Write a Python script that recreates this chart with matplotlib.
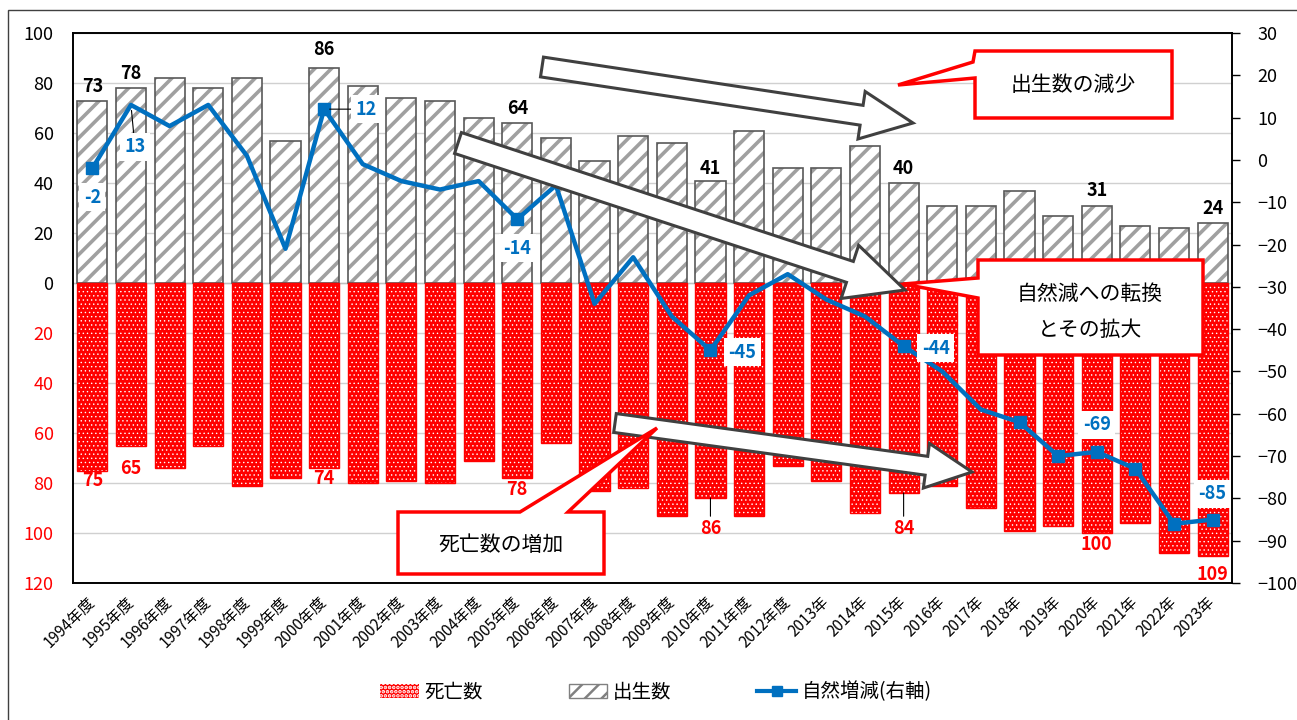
import numpy as np
import matplotlib
matplotlib.use('Agg')
import matplotlib.pyplot as plt
from matplotlib.patches import Polygon, Patch, Rectangle
from matplotlib.lines import Line2D

plt.rcParams['font.family'] = ['Noto Sans CJK JP', 'DejaVu Sans']
plt.rcParams['hatch.linewidth'] = 1.8

years = ['1994年度', '1995年度', '1996年度', '1997年度', '1998年度', '1999年度',
         '2000年度', '2001年度', '2002年度', '2003年度', '2004年度', '2005年度',
         '2006年度', '2007年度', '2008年度', '2009年度', '2010年度', '2011年度',
         '2012年度', '2013年', '2014年', '2015年', '2016年', '2017年', '2018年',
         '2019年', '2020年', '2021年', '2022年', '2023年']
births = [73, 78, 82, 78, 82, 57, 86, 79, 74, 73, 66, 64, 58, 49, 59, 56, 41, 61,
          46, 46, 55, 40, 31, 31, 37, 27, 31, 23, 22, 24]
deaths = [75, 65, 74, 65, 81, 78, 74, 80, 79, 80, 71, 78, 64, 83, 82, 93, 86, 93,
          73, 79, 92, 84, 81, 90, 99, 97, 100, 96, 108, 109]
natural = [-2, 13, 8, 13, 1, -21, 12, -1, -5, -7, -5, -14, -6, -34, -23, -37, -45,
           -32, -27, -33, -37, -44, -50, -59, -62, -70, -69, -73, -86, -85]

labeled = [0, 1, 6, 11, 16, 21, 26, 29]
marked = [0, 6, 11, 16, 21, 24, 25, 26, 27, 28, 29]

W, H = 1297, 720
BLUE = '#0070C0'
RED = '#FF0000'


def fpos(px, py):
    return px / W, 1 - py / H


def hatch_width(patches, lw):
    for p in patches:
        if hasattr(p, 'set_hatch_linewidth'):
            p.set_hatch_linewidth(lw)


fig = plt.figure(figsize=(W / 100, H / 100), dpi=100)
ax = fig.add_axes([73 / W, 1 - 583 / H, (1232 - 73) / W, (583 - 33) / H])
x = np.arange(len(years))
bw = 0.78

# births above zero, deaths below
bb = ax.bar(x, births, bw, color='white', edgecolor='#A0A0A0', hatch='//', lw=0, zorder=2)
hatch_width(bb, 2.6)
ax.bar(x, births, bw, fill=False, edgecolor='#595959', lw=1.2, zorder=2)
db = ax.bar(x, -np.array(deaths), bw, color=RED, edgecolor='white', hatch='....',
            lw=0, zorder=2)
hatch_width(db, 0.5)
ax.bar(x, -np.array(deaths), bw, fill=False, edgecolor=RED, lw=1, zorder=2)
ax.axhline(0, color='#BFBFBF', lw=1, zorder=1)

ax.set_xlim(-0.5, len(years) - 0.5)
ax.set_ylim(-120, 100)
lticks = np.arange(-120, 101, 20)
ax.set_yticks(lticks)
ax.set_yticklabels([str(abs(v)) for v in lticks])
for lbl, v in zip(ax.get_yticklabels(), lticks):
    lbl.set_color(RED if v < 0 else 'black')
ax.tick_params(axis='y', length=0, pad=14, labelsize=13)
ax.grid(axis='y', color='#D0D0D0', lw=1)
ax.set_axisbelow(True)
ax.set_xticks(x)
ax.set_xticklabels(years, rotation=45, ha='right', va='center',
                   rotation_mode='anchor', fontsize=11)
ax.tick_params(axis='x', length=0, pad=12)
for s in ax.spines.values():
    s.set_color('black')
    s.set_linewidth(1.2)

for i, dy in zip(labeled, [5, 5, 9, 5, 3, 5, 5, 5]):
    ax.annotate(str(births[i]), (i, births[i]), xytext=(0, dy),
                textcoords='offset pixels', ha='center', va='bottom',
                fontsize=13, fontweight='bold', color='black', zorder=5)

death_off = [-1, -13, -1, -2, -21, -26, -2, -9]
for i, dy in zip(labeled, death_off):
    lead = dict(arrowstyle='-', color='black', lw=0.8, shrinkA=0, shrinkB=0) if dy < -20 else None
    ax.annotate(str(deaths[i]), (i, -deaths[i]), xytext=(0, dy),
                textcoords='offset pixels', ha='center', va='top',
                fontsize=13, fontweight='bold', color=RED, zorder=5,
                arrowprops=lead)

ax2 = ax.twinx()
ax2.set_ylim(-100, 30)
ax2.set_yticks(np.arange(-100, 31, 10))
ax2.tick_params(axis='y', length=6, width=1, direction='out', pad=12, labelsize=13)
for s in ax2.spines.values():
    s.set_color('black')
    s.set_linewidth(1.2)
ax2.plot(x, natural, color=BLUE, lw=3.2, marker='s', ms=8, markevery=marked, zorder=3)

nat_off = [(0, -29), (4, -42), (42, 0), (0, -29), (32, -2), (32, -2), (0, 27), (0, 26)]
for i, (dx, dy) in zip(labeled, nat_off):
    lead = None
    if i in (1, 6):
        lead = dict(arrowstyle='-', color='black', lw=0.8, shrinkA=0, shrinkB=4)
    ax2.annotate(str(natural[i]), (i, natural[i]), xytext=(dx, dy),
                 textcoords='offset pixels', ha='center', va='center',
                 fontsize=13, fontweight='bold', color=BLUE, zorder=6,
                 bbox=dict(boxstyle='square,pad=0.25', fc='white', ec='none'),
                 arrowprops=lead)


def block_arrow(p0, p1, w, hw, hl):
    p0 = np.array(p0, float)
    p1 = np.array(p1, float)
    u = (p1 - p0) / np.hypot(*(p1 - p0))
    n = np.array([-u[1], u[0]])
    neck = p1 - u * hl
    pts = [p0 + n * w / 2, neck + n * w / 2, neck + n * hw / 2, p1,
           neck - n * hw / 2, neck - n * w / 2, p0 - n * w / 2]
    poly = Polygon([fpos(*p) for p in pts], closed=True, fc='white',
                   ec='#404040', lw=2.2, joinstyle='miter', transform=fig.transFigure, zorder=10)
    fig.add_artist(poly)


def callout(pts, lines, centers):
    poly = Polygon([fpos(*p) for p in pts], closed=True, fc='white', ec=RED,
                   lw=2.5, joinstyle='miter', transform=fig.transFigure, zorder=11)
    fig.add_artist(poly)
    for t, c in zip(lines, centers):
        fig.text(*fpos(*c), t, ha='center', va='center', fontsize=15, zorder=12)


block_arrow((542, 67), (913, 123), 20, 48, 52)
block_arrow((458, 143), (905, 290), 22, 56, 58)
block_arrow((615, 423), (972, 472), 19, 45, 46)

callout([(975, 51), (1172, 51), (1172, 118), (975, 118), (975, 78), (898, 85), (973, 62)],
        ['出生数の減少'], [(1073, 85)])
callout([(978, 260), (1203, 260), (1203, 355), (978, 355), (978, 298), (903, 284), (978, 278)],
        ['自然減への転換', 'とその拡大'], [(1090, 294), (1090, 330)])
callout([(398, 512), (520, 512), (657, 428), (568, 512), (604, 512), (604, 574), (398, 574)],
        ['死亡数の増加'], [(501, 545)])

lh = [Patch(facecolor=RED, edgecolor='white', hatch='....', lw=0),
      Patch(facecolor='white', edgecolor='#808080', hatch='//', lw=1),
      Line2D([], [], color=BLUE, lw=3, marker='s', ms=7)]
hatch_width(lh[:1], 0.5)
hatch_width(lh[1:2], 2.6)
fig.legend(lh, ['死亡数', '出生数', '自然増減(右軸)'], loc='center',
           bbox_to_anchor=fpos(656, 692), ncol=3, frameon=False, fontsize=14,
           handlelength=2.0, handletextpad=0.3, columnspacing=4.4)

fig.add_artist(Rectangle((8 / W, -0.1), 1.2, 1.1 - 10 / H, fill=False, ec='#404040',
                         lw=1, transform=fig.transFigure))

fig.savefig('out.png', dpi=100)
